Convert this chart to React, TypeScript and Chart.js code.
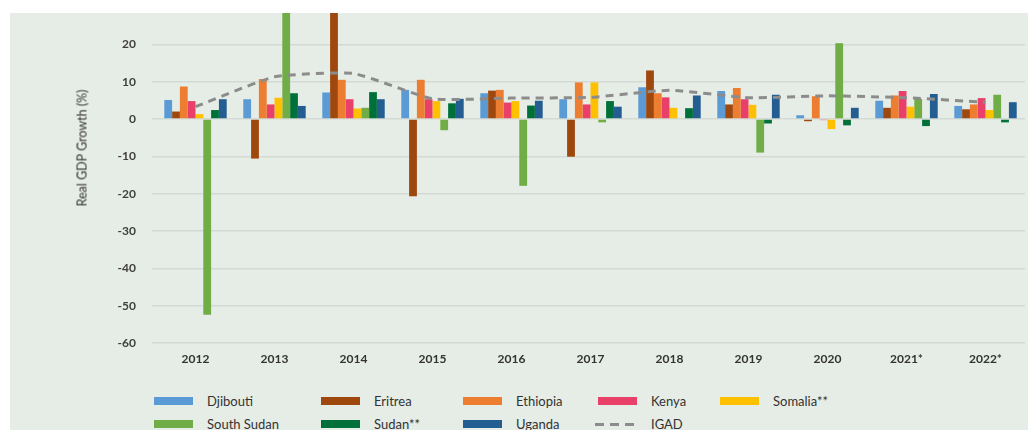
import React, { useEffect, useRef } from "react";
import { Chart, registerables } from "chart.js";

Chart.register(...registerables);

const years = ["2012", "2013", "2014", "2015", "2016", "2017", "2018", "2019", "2020", "2021*", "2022*"];

const djibouti = [5.1, 5.3, 7.1, 7.8, 6.9, 5.3, 8.5, 7.5, 1.0, 4.9, 3.5];
const eritrea = [2.0, -10.6, 30.9, -20.7, 7.6, -10.1, 13.0, 3.9, -0.6, 3.0, 2.6];
const ethiopia = [8.7, 10.7, 10.5, 10.5, 7.8, 9.8, 6.9, 8.3, 6.1, 6.3, 3.9];
const kenya = [4.8, 3.9, 5.3, 5.3, 4.4, 3.9, 5.8, 5.3, -0.3, 7.5, 5.6];
const somalia = [1.3, 5.7, 2.8, 4.8, 4.8, 9.8, 3.0, 3.8, -2.7, 3.3, 2.4];
const southSudan = [-52.4, 30.0, 3.0, -3.0, -17.9, -0.9, 0, -9.0, 20.3, 5.4, 6.5];
const sudan = [2.4, 6.9, 7.2, 4.2, 3.6, 4.8, 2.9, -1.2, -1.7, -1.9, -0.9];
const uganda = [5.3, 3.5, 5.3, 5.4, 4.9, 3.3, 6.3, 6.5, 3.0, 6.7, 4.5];
const igad = [3.3, 11.3, 12.2, 5.4, 5.6, 5.8, 7.7, 5.7, 6.2, 5.7, 4.5];

const yMin = -60;
const yMax = 30;
const yStep = 10;

const yTitle = "Real GDP Growth (%)";

const barSeries = [
  { name: "Djibouti", values: djibouti, color: "#5B9BD5" },
  { name: "Eritrea", values: eritrea, color: "#9E480E" },
  { name: "Ethiopia", values: ethiopia, color: "#ED7D31" },
  { name: "Kenya", values: kenya, color: "#E9406A" },
  { name: "Somalia**", values: somalia, color: "#FFC000" },
  { name: "South Sudan", values: southSudan, color: "#70AD47" },
  { name: "Sudan**", values: sudan, color: "#00703A" },
  { name: "Uganda", values: uganda, color: "#235D92" },
];
const lineSeries = { name: "IGAD", values: igad, color: "#8C8C8C" };

const BG = "#E6EDE6";
const GRID = "#D3DAD3";
const TEXT = "#333333";
const FONT = "Lato, 'Open Sans', sans-serif";

const legendCols = [154, 321, 463, 598, 720];
const legendRows = [401, 424];

export default function App() {
  const ref = useRef<HTMLCanvasElement | null>(null);

  useEffect(() => {
    if (!ref.current) return;
    const chart = new Chart(ref.current, {
      type: "bar",
      data: {
        labels: years,
        datasets: [
          {
            type: "line",
            label: lineSeries.name,
            data: lineSeries.values,
            borderColor: lineSeries.color,
            borderWidth: 3,
            borderDash: [8, 6],
            pointRadius: 0,
            tension: 0.15,
            fill: false,
            order: 0,
          } as any,
          ...barSeries.map((s) => ({
            type: "bar",
            label: s.name,
            data: s.values,
            backgroundColor: s.color,
            borderWidth: 0,
            categoryPercentage: 0.79,
            barPercentage: 1.0,
            order: 1,
          })),
        ],
      },
      options: {
        animation: false,
        responsive: false,
        devicePixelRatio: 1,
        layout: { padding: { top: 24, left: 0, right: 3, bottom: 0 } },
        plugins: {
          legend: { display: false },
          tooltip: { enabled: false },
          title: { display: false },
        },
        scales: {
          x: {
            grid: { display: false, drawTicks: false },
            border: { display: false },
            ticks: {
              color: TEXT,
              padding: 9,
              font: { family: FONT, size: 12, weight: "bold" },
              maxRotation: 0,
            },
            afterFit: (scale: any) => {
              scale.height = 40;
            },
          },
          y: {
            min: yMin,
            max: yMax,
            ticks: {
              stepSize: yStep,
              color: "#404040",
              padding: 16,
              font: { family: FONT, size: 12, weight: "bold" },
            },
            grid: { color: GRID, lineWidth: 1.5, drawTicks: true, tickLength: 4 },
            border: { display: false },
            afterFit: (scale: any) => {
              scale.width = 156;
            },
          },
        },
      },
    } as any);
    return () => chart.destroy();
  }, []);

  const legendItems = [
    ...barSeries.map((s) => ({ name: s.name, color: s.color, dashed: false })),
    { name: lineSeries.name, color: lineSeries.color, dashed: true },
  ];

  return (
    <div
      style={{
        position: "absolute",
        left: 0,
        top: 0,
        width: 1028,
        height: 430,
        background: "#ffffff",
        overflow: "hidden",
        fontFamily: FONT,
      }}
    >
      <div
        style={{
          position: "absolute",
          left: 10,
          top: 13,
          width: 1018,
          height: 417,
          background: BG,
          overflow: "hidden",
        }}
      >
        <canvas
          ref={ref}
          width={1028}
          height={400}
          style={{ position: "absolute", left: -10, top: -30, width: 1028, height: 400 }}
        />
      </div>
      <div
        style={{
          position: "absolute",
          left: 82,
          top: 148,
          transform: "translate(-50%, -50%) rotate(-90deg)",
          whiteSpace: "nowrap",
          fontSize: 12.5,
          color: TEXT,
        }}
      >
        {yTitle}
      </div>
      {legendItems.map((item, i) => {
        const col = i % 5;
        const row = Math.floor(i / 5);
        const x = legendCols[col];
        const y = legendRows[row];
        return (
          <React.Fragment key={item.name}>
            {item.dashed ? (
              <div style={{ position: "absolute", left: x - 3, top: y - 1.5, width: 42, height: 3 }}>
                {[0, 1, 2].map((k) => (
                  <div
                    key={k}
                    style={{
                      position: "absolute",
                      left: k * 15,
                      top: 0,
                      width: 9,
                      height: 3,
                      background: item.color,
                    }}
                  />
                ))}
              </div>
            ) : (
              <div
                style={{
                  position: "absolute",
                  left: x,
                  top: y - 4,
                  width: 39,
                  height: 8,
                  background: item.color,
                }}
              />
            )}
            <div
              style={{
                position: "absolute",
                left: x + 53,
                top: y - 9,
                fontSize: 13,
                lineHeight: "18px",
                color: TEXT,
                whiteSpace: "nowrap",
              }}
            >
              {item.name}
            </div>
          </React.Fragment>
        );
      })}
    </div>
  );
}
